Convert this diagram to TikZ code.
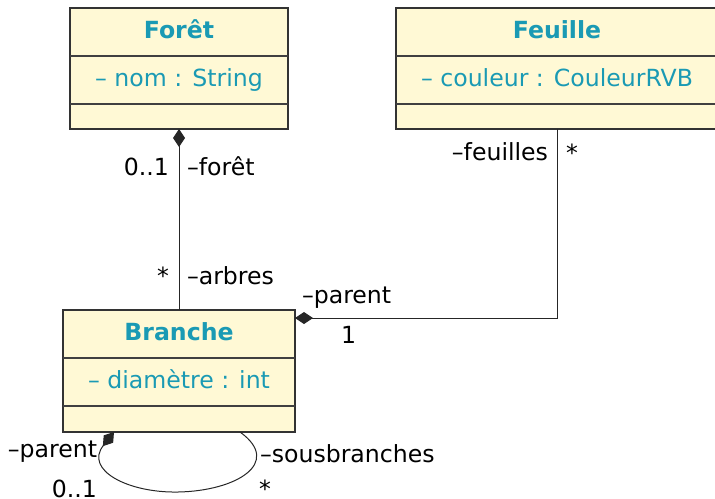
\documentclass[tikz,border=0pt]{standalone}
\usepackage{fontspec}
\setmainfont{DejaVu Sans}
\usetikzlibrary{arrows.meta,calc}
\definecolor{classfill}{HTML}{FFF9D5}
\definecolor{classtext}{HTML}{1A9AB4}
\begin{document}
\begin{tikzpicture}[x=0.5pt,y=-0.5pt,
  font=\fontsize{11.8}{14}\selectfont,
  every node/.style={inner sep=0pt, outer sep=0pt},
  classbox/.style={draw=black!80, fill=classfill, line width=0.6pt, minimum height=60.5pt},
  divider/.style={draw=black!75, line width=0.6pt},
  title/.style={anchor=base, text=classtext, font=\fontsize{11.8}{14}\selectfont\bfseries},
  attr/.style={anchor=base, text=classtext},
  lbl/.style={anchor=base west},
  lblr/.style={anchor=base east},
  conn/.style={draw=black!85, line width=0.5pt},
  comp/.style={conn, {Diamond[length=9pt,width=6pt]}-}]

\useasboundingbox (0,0) rectangle (715,498);

% classes
\node[classbox, minimum width=109pt] (foret) at (179,68.5) {};
\node[classbox, minimum width=161pt] (feuille) at (557,68.5) {};
\node[classbox, minimum width=116pt, minimum height=61pt] (branche) at (179,371) {};

\foreach \c in {foret,feuille,branche}{
  \draw[divider] ($(\c.north west)+(0,48)$) -- ($(\c.north east)+(0,48)$);
  \draw[divider] ($(\c.north west)+(0,96)$) -- ($(\c.north east)+(0,96)$);
}

\node[title] (foretT) at (179,38) {Forêt};
\node[attr] (foretA) at (179,86) {– nom : String};
\node[title] (feuilleT) at (557,38) {Feuille};
\node[attr] (feuilleA) at (557,86) {– couleur : CouleurRVB};
\node[title] (brancheT) at (179,340) {Branche};
\node[attr] (brancheA) at (179,388) {– diamètre : int};

% Forêt -- Branche
\draw[comp] (foret.south) -- (branche.north);
\node[lblr] (l1) at (169,175) {0..1};
\node[lbl] (l2) at (187,175) {–forêt};
\node[lblr] (l3) at (169,284) {*};
\node[lbl] (l4) at (187,284) {–arbres};

% Branche -- Feuille
\coordinate (bpar) at ($(branche.north east)+(0,8)$);
\draw[comp] (bpar) -| (feuille.south);
\node[lblr] (l5) at (548,160) {–feuilles};
\node[lbl] (l6) at (566,161) {*};
\node[lbl] (l7) at (302,303) {–parent};
\node[lbl] (l8) at (341,343) {1};

% self loop
\coordinate (ls) at ($(branche.south west)+(51,0)$);
\coordinate (le) at ($(branche.south west)+(177,0)$);
\coordinate (lb) at (178,492);
\draw[comp] (ls) .. controls (84,470) and (128,493) .. (lb)
  .. controls (236,491) and (283,463) .. (le);
\node[lblr] (l9) at (97,457) {–parent};
\node[lblr] (l10) at (97,497) {0..1};
\node[lbl] (l11) at (260,462) {–sousbranches};
\node[lbl] (l12) at (259,497) {*};
\end{tikzpicture}
\end{document}
